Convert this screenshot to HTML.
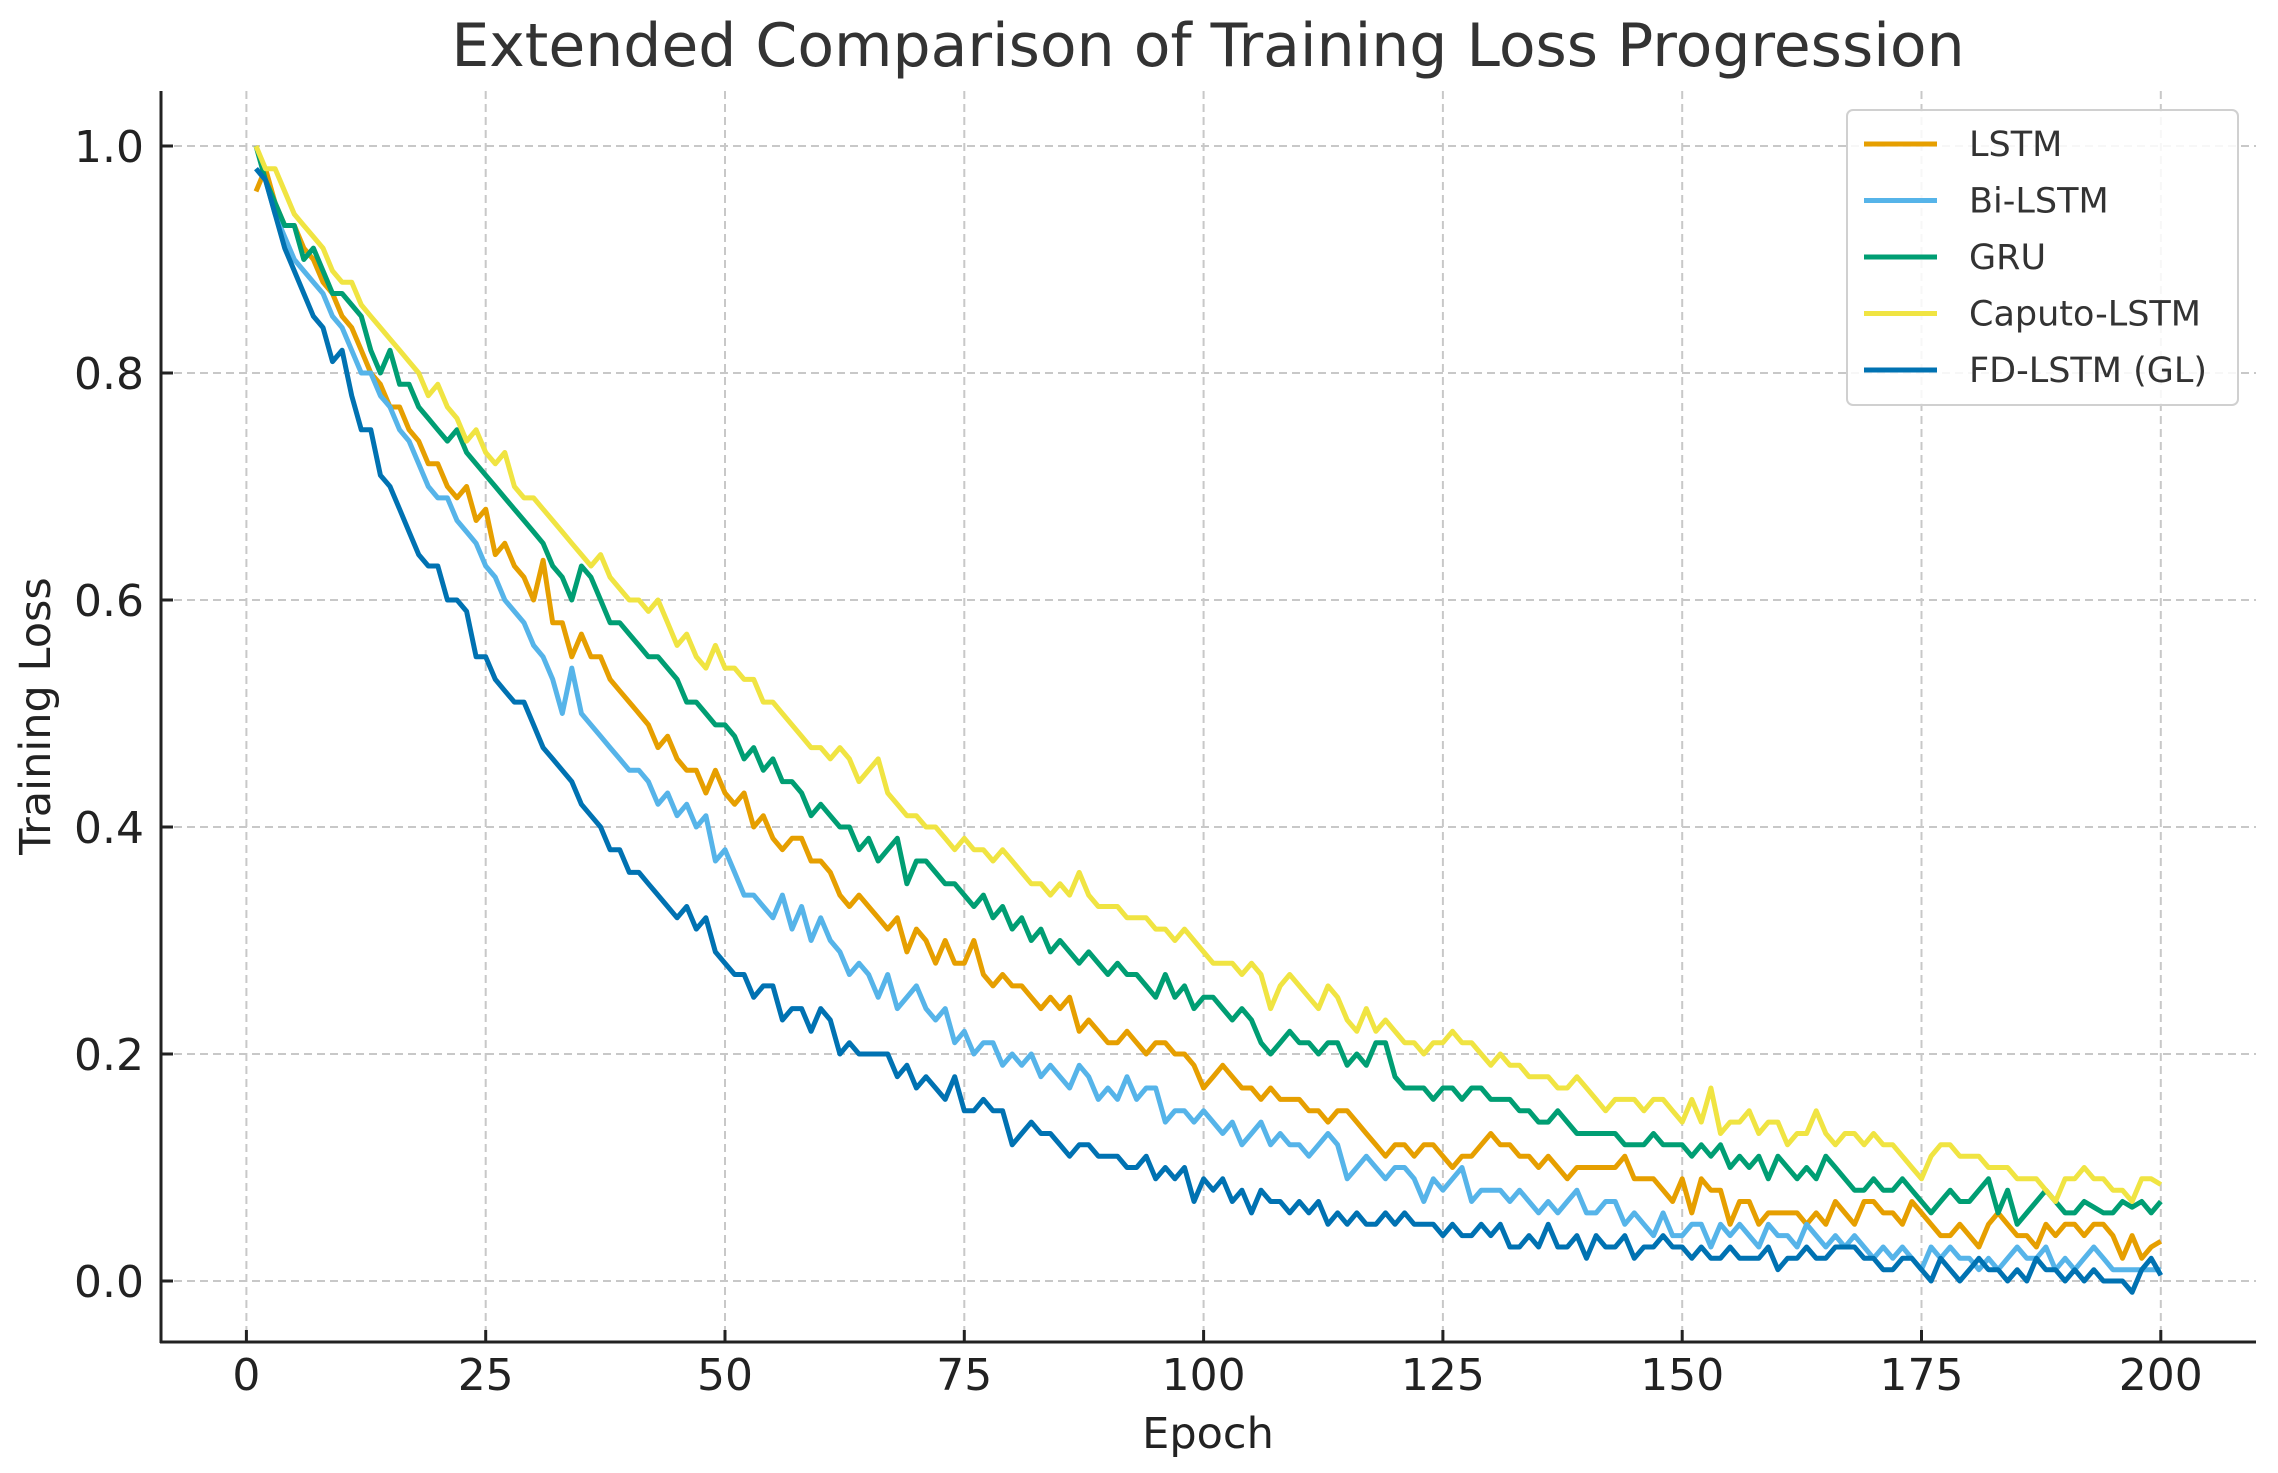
<!DOCTYPE html>
<html><head><meta charset="utf-8"><style>
html,body{margin:0;padding:0;background:#fff;}
svg{display:block;font-family:"DejaVu Sans","Liberation Sans",sans-serif;}
</style></head><body>
<svg id="chart" width="2278" height="1473" viewBox="0 0 2278 1473" xmlns="http://www.w3.org/2000/svg">
<rect width="2278" height="1473" fill="#fff"/>
<text x="1208" y="66" font-size="60" fill="#333" text-anchor="middle">Extended Comparison of Training Loss Progression</text>
<g id="grid"></g>
<g id="series"></g>
<line x1="161" y1="91" x2="161" y2="1343" stroke="#222" stroke-width="3"/>
<line x1="160" y1="1342" x2="2256" y2="1342" stroke="#222" stroke-width="3"/>
<g id="ticks"></g>
<text x="1208" y="1448" font-size="43" fill="#222" text-anchor="middle">Epoch</text>
<text transform="translate(50,716) rotate(-90)" font-size="43" fill="#222" text-anchor="middle">Training Loss</text>
<g id="legend"></g>
</svg>
<script>
const xTicks=[0,25,50,75,100,125,150,175,200];
const yTicks=[0.0,0.2,0.4,0.6,0.8,1.0];
const seriesNames=["LSTM","Bi-LSTM","GRU","Caputo-LSTM","FD-LSTM (GL)"];
const lstm=[.96,.98,.95,.93,.93,.91,.90,.88,.87,.85,.84,.82,.80,.79,.77,.77,.75,.74,.72,.72,.70,.69,.70,.67,.68,.64,.65,.63,.62,.60,.635,.58,.58,.55,.57,.55,.55,.53,.52,.51,.50,.49,.47,.48,.46,.45,.45,.43,.45,.43,.42,.43,.40,.41,.39,.38,.39,.39,.37,.37,.36,.34,.33,.34,.33,.32,.31,.32,.29,.31,.30,.28,.30,.28,.28,.30,.27,.26,.27,.26,.26,.25,.24,.25,.24,.25,.22,.23,.22,.21,.21,.22,.21,.20,.21,.21,.20,.20,.19,.17,.18,.19,.18,.17,.17,.16,.17,.16,.16,.16,.15,.15,.14,.15,.15,.14,.13,.12,.11,.12,.12,.11,.12,.12,.11,.10,.11,.11,.12,.13,.12,.12,.11,.11,.10,.11,.10,.09,.10,.10,.10,.10,.10,.11,.09,.09,.09,.08,.07,.09,.06,.09,.08,.08,.05,.07,.07,.05,.06,.06,.06,.06,.05,.06,.05,.07,.06,.05,.07,.07,.06,.06,.05,.07,.06,.05,.04,.04,.05,.04,.03,.05,.06,.05,.04,.04,.03,.05,.04,.05,.05,.04,.05,.05,.04,.02,.04,.02,.03,.035];
const bilstm=[.98,.97,.94,.92,.90,.89,.88,.87,.85,.84,.82,.80,.80,.78,.77,.75,.74,.72,.70,.69,.69,.67,.66,.65,.63,.62,.60,.59,.58,.56,.55,.53,.50,.54,.50,.49,.48,.47,.46,.45,.45,.44,.42,.43,.41,.42,.40,.41,.37,.38,.36,.34,.34,.33,.32,.34,.31,.33,.30,.32,.30,.29,.27,.28,.27,.25,.27,.24,.25,.26,.24,.23,.24,.21,.22,.20,.21,.21,.19,.20,.19,.20,.18,.19,.18,.17,.19,.18,.16,.17,.16,.18,.16,.17,.17,.14,.15,.15,.14,.15,.14,.13,.14,.12,.13,.14,.12,.13,.12,.12,.11,.12,.13,.12,.09,.10,.11,.10,.09,.10,.10,.09,.07,.09,.08,.09,.10,.07,.08,.08,.08,.07,.08,.07,.06,.07,.06,.07,.08,.06,.06,.07,.07,.05,.06,.05,.04,.06,.04,.04,.05,.05,.03,.05,.04,.05,.04,.03,.05,.04,.04,.03,.05,.04,.03,.04,.03,.04,.03,.02,.03,.02,.03,.02,.01,.03,.02,.03,.02,.02,.01,.02,.01,.02,.03,.02,.02,.03,.01,.02,.01,.02,.03,.02,.01,.01,.01,.01,.01,.01];
const gru=[1.0,.97,.95,.93,.93,.90,.91,.89,.87,.87,.86,.85,.82,.80,.82,.79,.79,.77,.76,.75,.74,.75,.73,.72,.71,.70,.69,.68,.67,.66,.65,.63,.62,.60,.63,.62,.60,.58,.58,.57,.56,.55,.55,.54,.53,.51,.51,.50,.49,.49,.48,.46,.47,.45,.46,.44,.44,.43,.41,.42,.41,.40,.40,.38,.39,.37,.38,.39,.35,.37,.37,.36,.35,.35,.34,.33,.34,.32,.33,.31,.32,.30,.31,.29,.30,.29,.28,.29,.28,.27,.28,.27,.27,.26,.25,.27,.25,.26,.24,.25,.25,.24,.23,.24,.23,.21,.20,.21,.22,.21,.21,.20,.21,.21,.19,.20,.19,.21,.21,.18,.17,.17,.17,.16,.17,.17,.16,.17,.17,.16,.16,.16,.15,.15,.14,.14,.15,.14,.13,.13,.13,.13,.13,.12,.12,.12,.13,.12,.12,.12,.11,.12,.11,.12,.10,.11,.10,.11,.09,.11,.10,.09,.10,.09,.11,.10,.09,.08,.08,.09,.08,.08,.09,.08,.07,.06,.07,.08,.07,.07,.08,.09,.06,.08,.05,.06,.07,.08,.07,.06,.06,.07,.065,.06,.06,.07,.065,.07,.06,.07];
const caputo=[1.0,.98,.98,.96,.94,.93,.92,.91,.89,.88,.88,.86,.85,.84,.83,.82,.81,.80,.78,.79,.77,.76,.74,.75,.73,.72,.73,.70,.69,.69,.68,.67,.66,.65,.64,.63,.64,.62,.61,.60,.60,.59,.60,.58,.56,.57,.55,.54,.56,.54,.54,.53,.53,.51,.51,.50,.49,.48,.47,.47,.46,.47,.46,.44,.45,.46,.43,.42,.41,.41,.40,.40,.39,.38,.39,.38,.38,.37,.38,.37,.36,.35,.35,.34,.35,.34,.36,.34,.33,.33,.33,.32,.32,.32,.31,.31,.30,.31,.30,.29,.28,.28,.28,.27,.28,.27,.24,.26,.27,.26,.25,.24,.26,.25,.23,.22,.24,.22,.23,.22,.21,.21,.20,.21,.21,.22,.21,.21,.20,.19,.20,.19,.19,.18,.18,.18,.17,.17,.18,.17,.16,.15,.16,.16,.16,.15,.16,.16,.15,.14,.16,.14,.17,.13,.14,.14,.15,.13,.14,.14,.12,.13,.13,.15,.13,.12,.13,.13,.12,.13,.12,.12,.11,.10,.09,.11,.12,.12,.11,.11,.11,.10,.10,.10,.09,.09,.09,.08,.07,.09,.09,.10,.09,.09,.08,.08,.07,.09,.09,.085];
const fdlstm=[.98,.97,.94,.91,.89,.87,.85,.84,.81,.82,.78,.75,.75,.71,.70,.68,.66,.64,.63,.63,.60,.60,.59,.55,.55,.53,.52,.51,.51,.49,.47,.46,.45,.44,.42,.41,.40,.38,.38,.36,.36,.35,.34,.33,.32,.33,.31,.32,.29,.28,.27,.27,.25,.26,.26,.23,.24,.24,.22,.24,.23,.20,.21,.20,.20,.20,.20,.18,.19,.17,.18,.17,.16,.18,.15,.15,.16,.15,.15,.12,.13,.14,.13,.13,.12,.11,.12,.12,.11,.11,.11,.10,.10,.11,.09,.10,.09,.10,.07,.09,.08,.09,.07,.08,.06,.08,.07,.07,.06,.07,.06,.07,.05,.06,.05,.06,.05,.05,.06,.05,.06,.05,.05,.05,.04,.05,.04,.04,.05,.04,.05,.03,.03,.04,.03,.05,.03,.03,.04,.02,.04,.03,.03,.04,.02,.03,.03,.04,.03,.03,.02,.03,.02,.02,.03,.02,.02,.02,.03,.01,.02,.02,.03,.02,.02,.03,.03,.03,.02,.02,.01,.01,.02,.02,.01,.00,.02,.01,.00,.01,.02,.01,.01,.00,.01,.00,.02,.01,.01,.00,.01,.00,.01,.00,.00,.00,-.01,.01,.02,.005];
const seriesData=[lstm,bilstm,gru,caputo,fdlstm];
const colors=["#E69F00","#56B4E9","#009E73","#F0E442","#0072B2"];
const NS="http://www.w3.org/2000/svg";
function xs(e){return 246.4+(e/200)*1914.4;}
function ys(v){return 1281-(v)*1135;}
function mk(tag,attrs,parent){const el=document.createElementNS(NS,tag);for(const k in attrs)el.setAttribute(k,attrs[k]);parent.appendChild(el);return el;}
const grid=document.getElementById('grid'),ticks=document.getElementById('ticks'),ser=document.getElementById('series'),leg=document.getElementById('legend');
xTicks.forEach(t=>{
  const g=mk('line',{x1:xs(t),x2:xs(t),y1:91,y2:1342,stroke:'#c8c8c8','stroke-width':2,'stroke-dasharray':'8,5'},grid);
  
  
  const tk=mk('line',{x1:xs(t),x2:xs(t),y1:1342,y2:1330,stroke:'#222','stroke-width':3},ticks);
  
  
  const tl=mk('text',{x:xs(t),y:1390,'font-size':44,fill:'#222','text-anchor':'middle'},ticks);
  tl.textContent=String(t);
  
  
});
yTicks.forEach(t=>{
  const g=mk('line',{x1:161,x2:2256,y1:ys(t),y2:ys(t),stroke:'#c8c8c8','stroke-width':2,'stroke-dasharray':'8,5'},grid);
  
  
  const tk=mk('line',{x1:161,x2:173,y1:ys(t),y2:ys(t),stroke:'#222','stroke-width':3},ticks);
  
  
  const tl=mk('text',{x:144,y:ys(t)+16,'font-size':44,fill:'#222','text-anchor':'end'},ticks);
  tl.textContent=t.toFixed(1);
  
  
});
seriesData.forEach((arr,i)=>{
  const pts=arr.map((v,j)=>xs(j+1).toFixed(1)+','+ys(v).toFixed(1)).join(' ');
  const p=mk('polyline',{points:pts,fill:'none',stroke:colors[i],'stroke-width':5,'stroke-linejoin':'round'},ser);
  
  
});
const box=mk('rect',{x:1847,y:110,width:391,height:295,rx:6,fill:'#fff','fill-opacity':0.85,stroke:'#d0d0d0','stroke-width':2},leg);


seriesNames.forEach((n,i)=>{
  const y=144+i*56.5;
  const l=mk('line',{x1:1864,x2:1937,y1:y,y2:y,stroke:colors[i],'stroke-width':5},leg);
  
  
  const t=mk('text',{x:1969,y:y+12,'font-size':35,fill:'#333'},leg);
  t.textContent=n;
  
  
});
</script>
</body></html>
